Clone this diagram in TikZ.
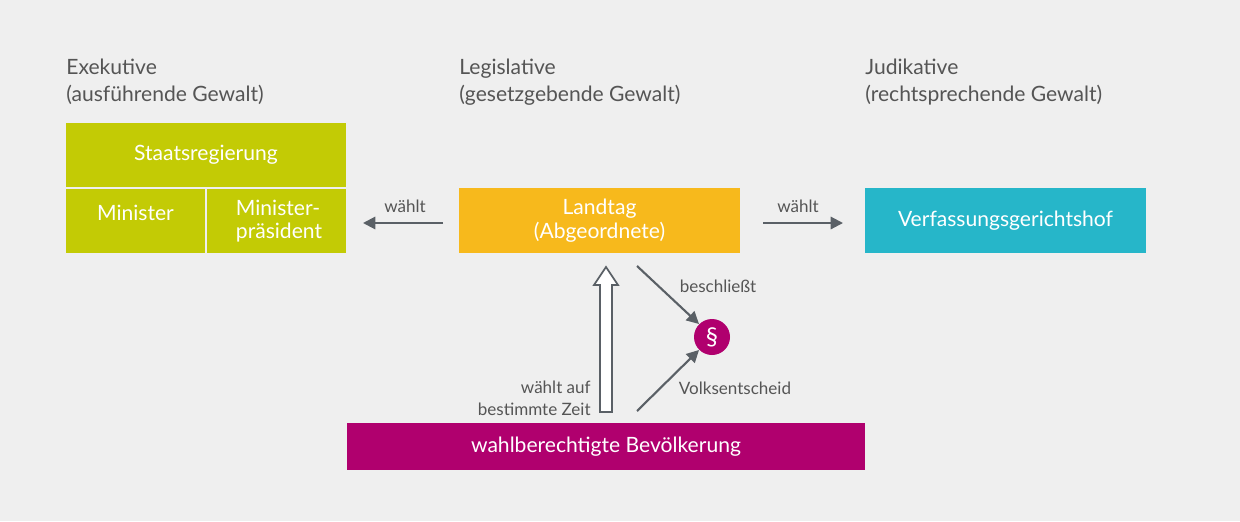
\documentclass[tikz,border=0pt]{standalone}
\usepackage{fontspec}
\setmainfont{Lato}
\usetikzlibrary{arrows.meta}
\definecolor{bg}{HTML}{EFEFEF}
\definecolor{grn}{HTML}{C3CB05}
\definecolor{yel}{HTML}{F7B91C}
\definecolor{cya}{HTML}{26B6C9}
\definecolor{mag}{HTML}{B0006E}
\definecolor{txt}{HTML}{555555}
\definecolor{arr}{HTML}{5A6066}
\begin{document}
\begin{tikzpicture}[x=0.02cm,y=-0.02cm,
 box/.style={inner sep=0,text=white,font=\fontsize{12}{13.5}\selectfont,align=center},
 head/.style={anchor=north west,inner sep=0,text=txt,font=\fontsize{12}{15}\selectfont,align=left},
 lab/.style={inner sep=0,text=txt,font=\fontsize{9.7}{12}\selectfont},
 con/.style={draw=arr,line width=1.2pt,-{Triangle[length=7pt,width=7pt]}}]
\fill[bg] (0,0) rectangle (1240,521);
\useasboundingbox (0,0) rectangle (1240,521);
\node[head] (h1) at (66,59) {Exekutive\\(ausführende Gewalt)};
\node[head] (h2) at (459,59) {Legislative\\(gesetzgebende Gewalt)};
\node[head] (h3) at (865,59) {Judikative\\(rechtsprechende Gewalt)};
\fill[grn] (66,123) rectangle (346,187);
\node[box] (sr) at (206,155) {Staatsregierung};
\fill[grn] (66,189) rectangle (205,253);
\node[box] (mi) at (135.5,213) {Minister};
\fill[grn] (207,189) rectangle (346,253);
\node[box,align=left] (mp) at (279,221) {Minister-\\präsident};
\fill[yel] (459,188) rectangle (740,253);
\node[box] (lt) at (599.5,220.5) {Landtag\\(Abgeordnete)};
\fill[cya] (865,188) rectangle (1146,253);
\node[box] (vg) at (1005.5,220.5) {Verfassungsgerichtshof};
\fill[mag] (347,423) rectangle (865,470);
\node[box] (bv) at (606,446.5) {wahlberechtigte Bevölkerung};
\node[circle,fill=mag,minimum size=36*0.02cm,inner sep=0,text=white,font=\fontsize{14}{16}\selectfont] (par) at (712,337) {\S};
\coordinate (l1) at (443,223); \coordinate (l2) at (363,223);
\coordinate (r1) at (763,223); \coordinate (r2) at (843,223);
\draw[con] (l1) -- (l2);
\draw[con] (r1) -- (r2);
\node[lab] at (405,206) {wählt};
\node[lab] at (798,206) {wählt};
\coordinate (b1) at (637,266); \coordinate (v1) at (637,411);
\draw[con] (b1) -- (par.north west);
\draw[con] (v1) -- (par.south west);
\node[lab] at (718,286) {beschließt};
\node[lab] at (735,388) {Volksentscheid};
\node[lab,anchor=east,align=right,font=\fontsize{9.7}{12.5}\selectfont] at (591,398) {wählt auf\\bestimmte Zeit};
\draw[arr,line width=1pt,fill=white] (600,412) -- (600,285) -- (594,285) -- (606,267) -- (618,285) -- (612,285) -- (612,412) -- cycle;
\end{tikzpicture}
\end{document}
